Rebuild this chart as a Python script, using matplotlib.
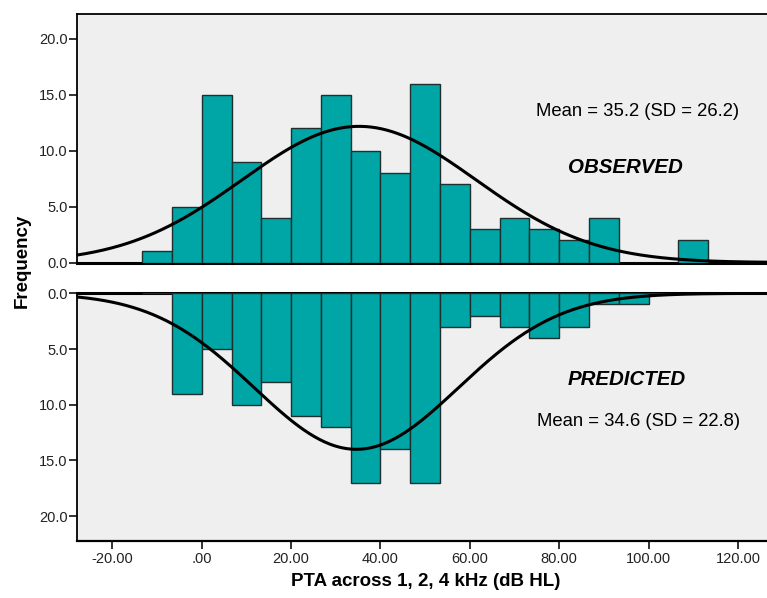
import numpy as np
import matplotlib
matplotlib.use("Agg")
import matplotlib.pyplot as plt
from matplotlib.ticker import FuncFormatter

plt.rcParams['font.family'] = ['Liberation Sans', 'DejaVu Sans']

# histogram bins (dB HL), width 6.67
bin_edges = np.linspace(-40 / 3, 340 / 3, 20)
observed = [1, 5, 15, 9, 4, 12, 15, 10, 8, 16, 7, 3, 4, 3, 2, 4, 0, 0, 2]
predicted = [0, 9, 5, 10, 8, 11, 12, 17, 14, 17, 3, 2, 3, 4, 3, 1, 1, 0, 0]
obs_mean, obs_sd = 35.2, 26.2
pred_mean, pred_sd = 34.6, 22.8
x_ticks = [-20, 0, 20, 40, 60, 80, 100, 120]
y_ticks = [0, 5, 10, 15, 20]

bar_col = "#00a6a6"
bg = "#efefef"
width = bin_edges[1] - bin_edges[0]
xlim = (-27.85, 126.5)
ylim = 22.2


def normal_curve(ax, counts, mean, sd):
    xs = np.linspace(xlim[0], xlim[1], 400)
    n = sum(counts)
    ys = n * width / (sd * np.sqrt(2 * np.pi)) * np.exp(-0.5 * ((xs - mean) / sd) ** 2)
    ax.plot(xs, ys, color="black", lw=2.2, zorder=4)


def style(ax):
    ax.set_facecolor(bg)
    ax.set_xlim(*xlim)
    ax.set_yticks(y_ticks)
    ax.yaxis.set_major_formatter(FuncFormatter(lambda v, p: f"{v:.1f}"))
    ax.spines['right'].set_visible(False)
    for s in ['left', 'top', 'bottom']:
        ax.spines[s].set_linewidth(1.3)
    ax.tick_params(axis='y', direction='out', length=6, width=1.3, pad=1, labelsize=10.5, colors='#222222')
    ax.tick_params(axis='x', direction='out', length=6, width=1.3, pad=2, labelsize=10.5, colors='#222222')


fig = plt.figure(figsize=(7.67, 5.98), dpi=100)
ax1 = fig.add_axes([0.1008, 0.561, 0.8992, 0.415])
ax2 = fig.add_axes([0.1008, 0.0958, 0.8992, 0.4137])

# observed
ax1.bar(bin_edges[:-1], observed, width=width, align='edge', color=bar_col,
        edgecolor="#1f2e2e", linewidth=1.0, zorder=3)
normal_curve(ax1, observed, obs_mean, obs_sd)
style(ax1)
ax1.set_ylim(0, ylim)
ax1.set_xticks([])
ax1.spines['bottom'].set_linewidth(2.2)
ax1.text(97.6, 13.5, f"Mean = {obs_mean} (SD = {obs_sd})", ha='center', va='center', fontsize=13.3)
ax1.text(94.7, 8.5, "OBSERVED", ha='center', va='center', fontsize=14.8,
         fontweight='bold', style='italic')

# predicted
ax2.bar(bin_edges[:-1], predicted, width=width, align='edge', color=bar_col,
        edgecolor="#1f2e2e", linewidth=1.0, zorder=3)
normal_curve(ax2, predicted, pred_mean, pred_sd)
style(ax2)
ax2.set_ylim(ylim, 0)
ax2.spines['top'].set_linewidth(2.2)
ax2.spines['bottom'].set_linewidth(1.6)
ax2.set_xticks(x_ticks)
ax2.xaxis.set_major_formatter(FuncFormatter(lambda v, p: ".00" if v == 0 else f"{v:.2f}"))
ax2.text(95.0, 7.7, "PREDICTED", ha='center', va='center', fontsize=14.8,
         fontweight='bold', style='italic')
ax2.text(97.8, 11.5, f"Mean = {pred_mean} (SD = {pred_sd})", ha='center', va='center', fontsize=13.3)

fig.text(0.0287, 0.5635, "Frequency", rotation=90, ha='center', va='center',
         fontsize=13.5, fontweight='bold')
fig.text(0.555, 0.028, "PTA across 1, 2, 4 kHz (dB HL)", ha='center', va='center',
         fontsize=13.5, fontweight='bold')

fig.savefig("out.png", dpi=100, facecolor="white")
